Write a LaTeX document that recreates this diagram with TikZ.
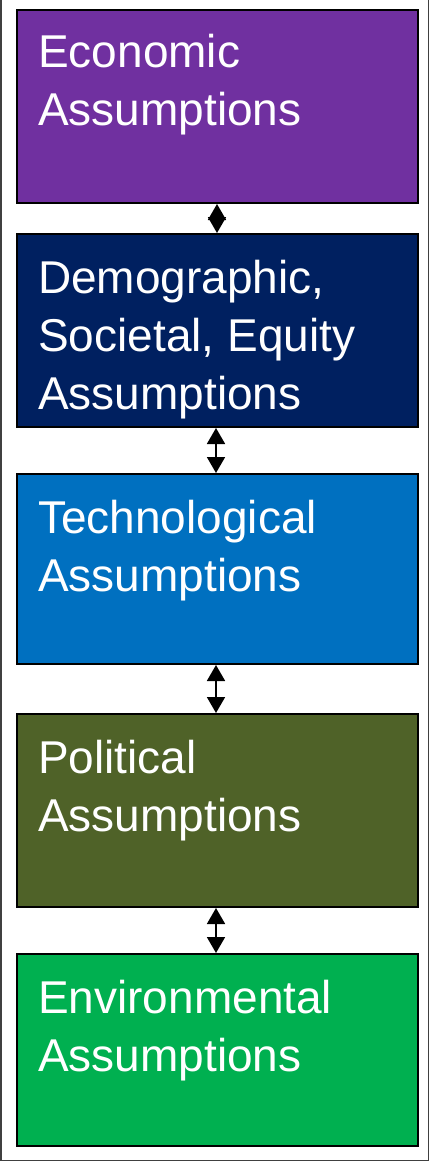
\documentclass[tikz,border=0pt]{standalone}
\usepackage{fontspec}
\setmainfont{Liberation Sans}
\usetikzlibrary{arrows.meta}
\definecolor{cEcon}{HTML}{7030A0}
\definecolor{cDemo}{HTML}{002060}
\definecolor{cTech}{HTML}{0070C0}
\definecolor{cPol}{HTML}{4F6228}
\definecolor{cEnv}{HTML}{00B050}
\tikzset{
  abox/.style={draw=black, line width=2.5pt, inner sep=0pt},
  atext/.style={anchor=base west, text=white, font=\fontsize{46}{58}\selectfont, align=left, inner sep=0pt},
  link/.style={line width=1.8pt, {Triangle[width=18pt,length=16pt]}-{Triangle[width=18pt,length=16pt]}}
}
\begin{document}
\begin{tikzpicture}[x=1pt,y=-1pt]
\useasboundingbox (0,0) rectangle (430,1162);
\draw[black!75, line width=1.5pt] (1.2,-2) -- (1.2,1160.5) -- (428.5,1160.5) -- (428.5,-2);
% boxes
\path[abox, fill=cEcon] (17,10) rectangle (418,203);
\path[abox, fill=cDemo] (17,234) rectangle (418,427);
\path[abox, fill=cTech] (17,474) rectangle (418,664);
\path[abox, fill=cPol]  (17,714) rectangle (418,907);
\path[abox, fill=cEnv]  (17,954) rectangle (418,1146);
\coordinate (b1) at (217,204);
\coordinate (t2) at (217,233);
\coordinate (b2) at (216,428);
\coordinate (t3) at (216,473);
\coordinate (b3) at (216,665);
\coordinate (t4) at (216,713);
\coordinate (b4) at (216,908);
\coordinate (t5) at (216,953);
\node[atext] (e) at (38,125) {Economic\\Assumptions};
\node[atext] (d) at (38,409) {Demographic,\\Societal, Equity\\Assumptions};
\node[atext] (t) at (38,591) {Technological\\Assumptions};
\node[atext] (p) at (38,831) {Political\\Assumptions};
\node[atext] (v) at (38,1071) {Environmental\\Assumptions};
\draw[link] (b1) -- (t2);
\draw[link] (b2) -- (t3);
\draw[link] (b3) -- (t4);
\draw[link] (b4) -- (t5);
\end{tikzpicture}
\end{document}
